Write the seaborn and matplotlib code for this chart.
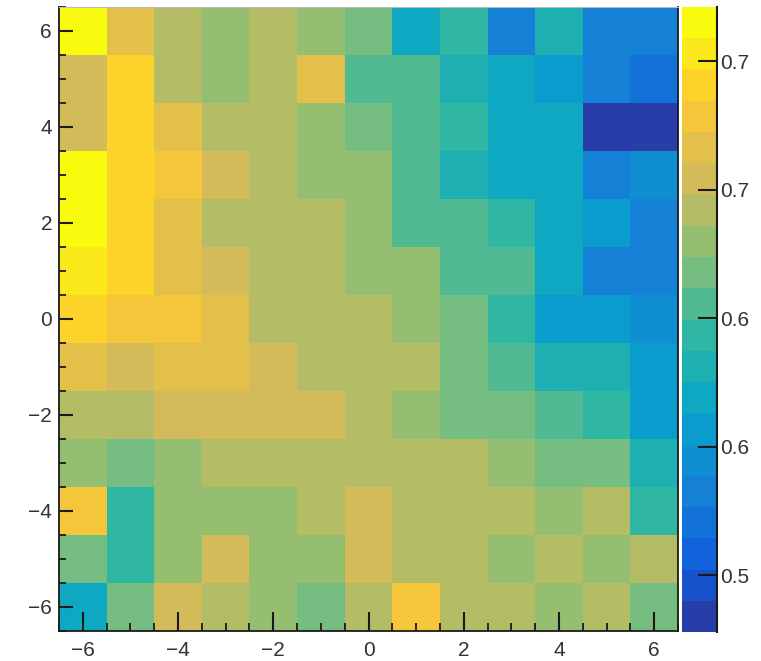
import numpy as np
import pandas as pd
import matplotlib
matplotlib.use("Agg")
import matplotlib.pyplot as plt
from matplotlib.colors import ListedColormap, LinearSegmentedColormap
from matplotlib.ticker import FixedLocator, MultipleLocator, FixedFormatter, FormatStrFormatter
import seaborn as sns

# ---- data (rows listed from y=6 at top down to y=-6) ----
x_vals = [-6, -5, -4, -3, -2, -1, 0, 1, 2, 3, 4, 5, 6]
y_vals = [6, 5, 4, 3, 2, 1, 0, -1, -2, -3, -4, -5, -6]
row_p6 = [0.715, 0.667, 0.642, 0.630, 0.642, 0.630, 0.618, 0.569, 0.594, 0.533, 0.581, 0.533, 0.533]
row_p5 = [0.654, 0.691, 0.642, 0.630, 0.642, 0.667, 0.606, 0.606, 0.581, 0.569, 0.557, 0.533, 0.521]
row_p4 = [0.654, 0.691, 0.667, 0.642, 0.642, 0.630, 0.618, 0.606, 0.594, 0.569, 0.569, 0.484, 0.484]
row_p3 = [0.715, 0.691, 0.679, 0.654, 0.642, 0.630, 0.630, 0.606, 0.581, 0.569, 0.569, 0.533, 0.545]
row_p2 = [0.715, 0.691, 0.667, 0.642, 0.642, 0.642, 0.630, 0.606, 0.606, 0.594, 0.569, 0.557, 0.533]
row_p1 = [0.703, 0.691, 0.667, 0.654, 0.642, 0.642, 0.630, 0.630, 0.606, 0.606, 0.569, 0.533, 0.533]
row_0 = [0.691, 0.679, 0.679, 0.667, 0.642, 0.642, 0.642, 0.630, 0.618, 0.594, 0.557, 0.557, 0.545]
row_m1 = [0.667, 0.654, 0.667, 0.667, 0.654, 0.642, 0.642, 0.642, 0.618, 0.606, 0.581, 0.581, 0.557]
row_m2 = [0.642, 0.642, 0.654, 0.654, 0.654, 0.654, 0.642, 0.630, 0.618, 0.618, 0.606, 0.594, 0.557]
row_m3 = [0.630, 0.618, 0.630, 0.642, 0.642, 0.642, 0.642, 0.642, 0.642, 0.630, 0.618, 0.618, 0.581]
row_m4 = [0.679, 0.594, 0.630, 0.630, 0.630, 0.642, 0.654, 0.642, 0.642, 0.642, 0.630, 0.642, 0.594]
row_m5 = [0.618, 0.594, 0.630, 0.654, 0.630, 0.630, 0.654, 0.642, 0.642, 0.630, 0.642, 0.630, 0.642]
row_m6 = [0.569, 0.618, 0.654, 0.642, 0.630, 0.618, 0.642, 0.679, 0.642, 0.642, 0.630, 0.642, 0.618]

x_tick_vals = [-6, -4, -2, 0, 2, 4, 6]
y_tick_vals = [-6, -4, -2, 0, 2, 4, 6]
cbar_tick_vals = [0.50, 0.55, 0.60, 0.65, 0.70]
z_min, z_max = 0.478, 0.721
n_contours = 20

rows = [row_p6, row_p5, row_p4, row_p3, row_p2, row_p1, row_0,
        row_m1, row_m2, row_m3, row_m4, row_m5, row_m6]
df = pd.DataFrame(rows, index=y_vals, columns=x_vals)
df = df.sort_index(ascending=True)  # y=-6 first, flipped later

# ---- ROOT kBird palette, discretised into 20 contours ----
stops = [0.0, 0.125, 0.25, 0.375, 0.5, 0.625, 0.75, 0.875, 1.0]
red = [0.2082, 0.0592, 0.0780, 0.0232, 0.1802, 0.5301, 0.8186, 0.9956, 0.9764]
green = [0.1664, 0.3599, 0.5041, 0.6419, 0.7178, 0.7492, 0.7328, 0.7862, 0.9832]
blue = [0.5293, 0.8684, 0.8385, 0.7914, 0.6425, 0.4662, 0.3499, 0.1968, 0.0539]
bird = LinearSegmentedColormap.from_list(
    "bird", list(zip(stops, zip(red, green, blue))), N=256)
cmap = ListedColormap([bird((i + 1) / n_contours) for i in range(n_contours)])

plt.rcParams['font.family'] = ['Liberation Sans', 'DejaVu Sans']
fig = plt.figure(figsize=(7.61, 6.61), dpi=100)
ax = fig.add_axes([59 / 761, 30 / 661, 619 / 761, 624 / 661])
cax = fig.add_axes([682 / 761, 29 / 661, 35 / 761, 625 / 661])

sns.heatmap(df, ax=ax, cmap=cmap, vmin=z_min, vmax=z_max, cbar=True,
            cbar_ax=cax, square=False, xticklabels=False, yticklabels=False,
            linewidths=0)
ax.invert_yaxis()

# axes frame
for s in ax.spines.values():
    s.set_visible(True)
    s.set_color('#1a1a1a')
    s.set_linewidth(1.3)
ax.spines['top'].set_color('#bbbbbb')
ax.spines['top'].set_linewidth(0.8)

def fmt(v):
    return str(v).replace('-', '\u2212')

ax.xaxis.set_major_locator(FixedLocator([v + 6.5 for v in x_tick_vals]))
ax.xaxis.set_major_formatter(FixedFormatter([fmt(v) for v in x_tick_vals]))
ax.yaxis.set_major_locator(FixedLocator([v + 6.5 for v in y_tick_vals]))
ax.yaxis.set_major_formatter(FixedFormatter([fmt(v) for v in y_tick_vals]))
ax.xaxis.set_minor_locator(MultipleLocator(0.5))
ax.yaxis.set_minor_locator(MultipleLocator(0.5))
ax.tick_params(axis='x', which='major', direction='in', length=13.5, width=1.5,
               labelsize=15, pad=7, colors='#1a1a1a', bottom=True, top=False)
ax.tick_params(axis='x', which='minor', direction='in', length=6, width=1.3,
               colors='#1a1a1a', bottom=True, top=False)
ax.tick_params(axis='y', which='major', direction='in', length=10, width=1.5,
               labelsize=15, pad=5, colors='#1a1a1a', left=True, right=False)
ax.tick_params(axis='y', which='minor', direction='in', length=5, width=1.3,
               colors='#1a1a1a', left=True, right=False)
ax.set_xlabel('')
ax.set_ylabel('')
for lab in ax.get_xticklabels() + ax.get_yticklabels():
    lab.set_color('#333333')
    lab.set_rotation(0)

# colour bar styling
cbar = ax.collections[0].colorbar
cbar.outline.set_visible(False)
cax.plot([1, 1], [0, 1], transform=cax.transAxes, color='#1a1a1a', lw=1.5,
         clip_on=False)
cax.yaxis.set_ticks_position('right')
cbar.set_ticks(cbar_tick_vals)
cax.yaxis.set_major_formatter(FormatStrFormatter('%.1f'))
cax.yaxis.set_minor_locator(FixedLocator([]))
cax.tick_params(axis='y', which='major', direction='in', length=14, width=1.5,
                labelsize=15, pad=2, colors='#1a1a1a', labelcolor='#333333')

fig.savefig('out.png', dpi=100)
